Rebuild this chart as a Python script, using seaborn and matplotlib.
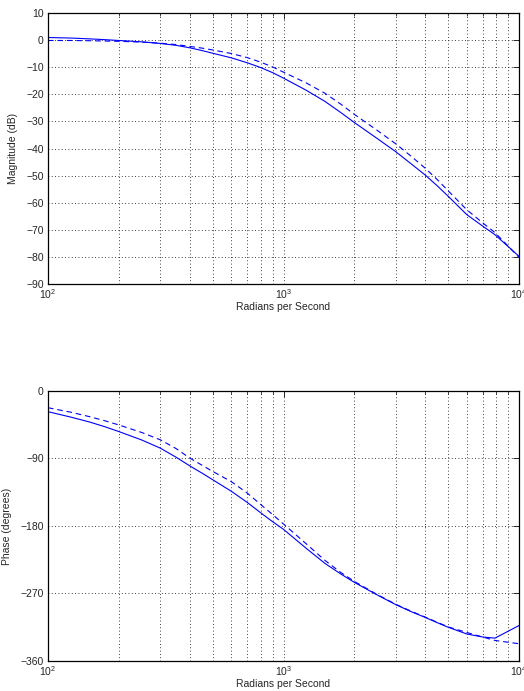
import matplotlib
matplotlib.use("Agg")
import matplotlib.pyplot as plt
import matplotlib.ticker as mticker
import numpy as np
import pandas as pd
import seaborn as sns

sns.set_style("white")
plt.rcParams.update({'font.family'      : ['Liberation Sans', 'DejaVu Sans'],
                     'font.size'        : 7.5,
                     'xtick.labelsize'  : 7.5,
                     'ytick.labelsize'  : 7.5,
                     'axes.labelsize'   : 7.5,
                     'axes.linewidth'   : 0.9,
                     'axes.edgecolor'   : 'black',
                     'xtick.direction'  : 'in',
                     'ytick.direction'  : 'in'})

# frequency samples (rad/s)
freq = [100, 125, 150, 175, 200, 250, 300, 350, 400, 450, 500, 600, 700, 800, 900,
        1000, 1250, 1500, 1750, 2000, 2500, 3000, 3500, 4000, 4500, 5000, 6000,
        7000, 7900, 10000]

# magnitude (dB): measured (solid) vs model (dashed)
mag_solid  = [1.0, 0.8, 0.5, 0.2, -0.1, -0.6, -1.2, -1.9, -2.8, -3.8, -4.8, -6.5, -8.3,
              -10.1, -12.0, -14.0, -18.5, -22.6, -26.7, -30.4, -36.3, -41.2, -45.8,
              -49.8, -53.8, -57.6, -64.4, -68.6, -71.8, -79.8]
mag_dashed = [-0.1, -0.1, -0.2, -0.3, -0.4, -0.7, -1.1, -1.6, -2.3, -2.9, -3.6, -4.9, -6.4,
              -8.1, -9.9, -11.8, -15.8, -19.6, -23.6, -27.4, -33.3, -38.3, -43.0,
              -47.3, -51.5, -55.6, -62.6, -67.4, -71.0, -80.2]

# phase (degrees)
phase_solid  = [-27.8, -35.0, -41.5, -48.0, -54.3, -65.5, -76.4, -88.5, -100.0, -109.5,
                -118.4, -133.8, -148.5, -162.5, -174.5, -184.6, -210.0, -230.0, -244.0,
                -255.3, -272.0, -285.0, -294.5, -302.0, -309.0, -315.0, -324.0, -328.0,
                -329.5, -312.7]
phase_dashed = [-22.5, -28.5, -34.4, -40.0, -45.5, -55.5, -65.3, -77.0, -89.6, -99.0,
                -107.3, -121.0, -136.0, -151.5, -165.0, -177.5, -204.0, -226.0, -242.0,
                -254.0, -271.5, -284.5, -294.0, -301.5, -308.5, -314.5, -322.0, -328.0,
                -332.6, -337.0]

df = pd.DataFrame({'w': freq, 'mag_s': mag_solid, 'mag_d': mag_dashed,
                   'ph_s': phase_solid, 'ph_d': phase_dashed})

fig = plt.figure(figsize=(5.24, 6.91), dpi=100)
ax1 = fig.add_axes([0.0916, 0.589, 0.899, 0.392])
ax2 = fig.add_axes([0.0916, 0.0434, 0.899, 0.391])

blue = (0, 0, 1)
for ax, ys, yd in [(ax1, 'mag_s', 'mag_d'), (ax2, 'ph_s', 'ph_d')]:
    sns.lineplot(data=df, x='w', y=ys, ax=ax, color=blue, lw=0.8)
    sns.lineplot(data=df, x='w', y=yd, ax=ax, color=blue, lw=0.8, linestyle=(0, (5, 3.5)))
    ax.set_xscale('log')
    ax.set_xlim(100, 10000)
    ax.xaxis.set_major_locator(mticker.LogLocator(base=10, numticks=5))
    ax.xaxis.set_minor_locator(mticker.LogLocator(base=10, subs=np.arange(2, 10), numticks=10))
    ax.xaxis.set_minor_formatter(mticker.NullFormatter())
    ax.grid(True, which='major', color='black', linestyle=(0, (1, 3)), lw=0.6)
    ax.grid(True, which='minor', axis='x', color='black', linestyle=(0, (1, 3)), lw=0.6)
    ax.tick_params(which='major', length=4, width=0.7, top=True, right=True, pad=3)
    ax.tick_params(which='minor', length=2.5, width=0.6, top=True, right=True)
    ax.tick_params(axis='x', which='major', pad=2)
    ax.set_xlabel('Radians per Second', labelpad=1)
    for s in ax.spines.values():
        s.set_visible(True)

ax1.set_ylim(-90, 10)
ax1.set_yticks(np.arange(-90, 11, 10))
ax1.set_ylabel('Magnitude (dB)', labelpad=6)

ax2.set_ylim(-360, 0)
ax2.set_yticks([-360, -270, -180, -90, 0])
ax2.set_ylabel('Phase (degrees)', labelpad=6)

fig.savefig('out.png', dpi=100)
